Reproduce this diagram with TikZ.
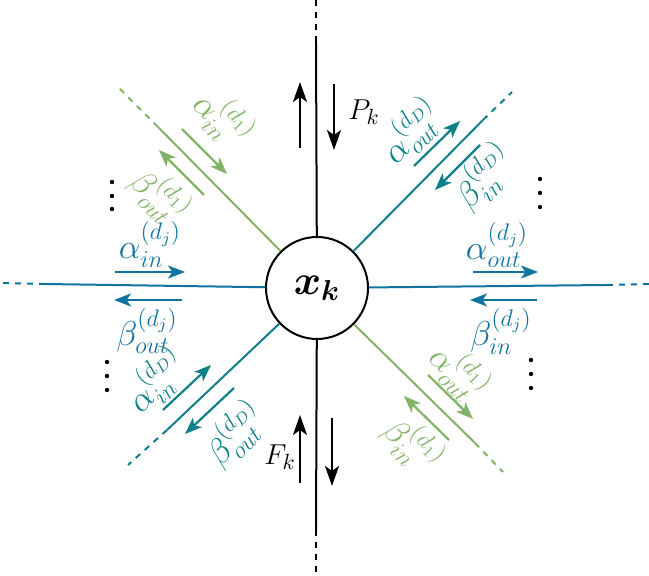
\documentclass[tikz,border=0pt]{standalone}
\usepackage{amsmath,amssymb}
\usetikzlibrary{arrows.meta}
\definecolor{cgreen}{HTML}{82B366}
\definecolor{cteal}{HTML}{0E8088}
\definecolor{cblue}{HTML}{10739E}
\tikzset{
  lab/.style={inner sep=0pt,font=\fontsize{16.5}{20}\selectfont},
  blab/.style={inner sep=0pt,font=\fontsize{15}{18}\selectfont},
  cline/.style={line width=1pt},
  dline/.style={line width=1pt,dash pattern=on 3pt off 3pt},
  carr/.style={line width=1.1pt,-{Stealth[length=8.5pt,width=6.5pt,inset=2.2pt]}},
  barr/.style={line width=1.1pt,-{Stealth[length=10pt,width=7pt,inset=2.5pt]}},
  dotc/.style={circle,fill=black,inner sep=0pt,minimum size=2.2pt}
}
\begin{document}
\begin{tikzpicture}[x=0.5pt,y=-0.5pt]
\useasboundingbox (0,0) rectangle (649,576);
\node[circle,draw,line width=1pt,minimum size=51pt,inner sep=0pt] (c) at (317,288)
  {\fontsize{20}{24}\selectfont$\boldsymbol{x}_{\boldsymbol{k}}$};

% vertical black
\coordinate (vt) at (316,42); \coordinate (vt0) at (316,0);
\coordinate (vb) at (316,530); \coordinate (vb0) at (316,576);
\draw[cline] (c) -- (vt); \draw[dline] (vt) -- (vt0);
\draw[cline] (c) -- (vb); \draw[dline] (vb) -- (vb0);
\coordinate (pu1) at (300,148); \coordinate (pu2) at (300,82);
\coordinate (pd1) at (334,84); \coordinate (pd2) at (334,150);
\draw[barr] (pu1) -- (pu2); \draw[barr] (pd1) -- (pd2);
\node[blab] (pk) at (364,112) {$P_k$};
\coordinate (fu1) at (300,483); \coordinate (fu2) at (300,415);
\coordinate (fd1) at (332,418); \coordinate (fd2) at (332,486);
\draw[barr] (fu1) -- (fu2); \draw[barr] (fd1) -- (fd2);
\node[blab] (fk) at (280,457) {$F_k$};

% horizontal blue
\begin{scope}[cblue]
\coordinate (hl) at (45,284); \coordinate (hl0) at (0,283);
\coordinate (hr) at (607,285); \coordinate (hr0) at (649,284);
\draw[cline] (c) -- (hl); \draw[dline] (hl) -- (hl0);
\draw[cline] (c) -- (hr); \draw[dline] (hr) -- (hr0);
\coordinate (la1) at (115,272); \coordinate (la2) at (185,272);
\coordinate (lb1) at (182,300); \coordinate (lb2) at (114,300);
\draw[carr] (la1) -- (la2); \draw[carr] (lb1) -- (lb2);
\node[lab,anchor=south] (lal) at (150,268) {$\alpha_{in}^{(d_j)}$};
\node[lab,anchor=north] (lbl) at (147,308) {$\beta_{out}^{(d_j)}$};
\coordinate (ra1) at (473,272); \coordinate (ra2) at (538,272);
\coordinate (rb1) at (537,300); \coordinate (rb2) at (470,300);
\draw[carr] (ra1) -- (ra2); \draw[carr] (rb1) -- (rb2);
\node[lab,anchor=south] (ral) at (497,268) {$\alpha_{out}^{(d_j)}$};
\node[lab,anchor=north] (rbl) at (501,308) {$\beta_{in}^{(d_j)}$};
\end{scope}

% upper-left green
\begin{scope}[cgreen]
\coordinate (ul) at (158,127); \coordinate (ul0) at (119,88);
\draw[cline] (c) -- (ul); \draw[dline] (ul) -- (ul0);
\coordinate (ula1) at (182,129); \coordinate (ula2) at (227,174);
\coordinate (ulb1) at (204,195); \coordinate (ulb2) at (159,150);
\draw[carr] (ula1) -- (ula2); \draw[carr] (ulb1) -- (ulb2);
\node[lab,rotate=-45] (ulal) at (223,119) {$\alpha_{in}^{(d_1)}$};
\node[lab,rotate=-45] (ulbl) at (160,196) {$\beta_{out}^{(d_1)}$};
\end{scope}

% lower-right green
\begin{scope}[cgreen]
\coordinate (lr) at (475,443); \coordinate (lr0) at (503,472);
\draw[cline] (c) -- (lr); \draw[dline] (lr) -- (lr0);
\coordinate (lra1) at (428,375); \coordinate (lra2) at (473,419);
\coordinate (lrb1) at (449,440); \coordinate (lrb2) at (404,396);
\draw[carr] (lra1) -- (lra2); \draw[carr] (lrb1) -- (lrb2);
\node[lab,rotate=-45] (lral) at (459,372) {$\alpha_{out}^{(d_1)}$};
\node[lab,rotate=-45] (lrbl) at (413,445) {$\beta_{in}^{(d_1)}$};
\end{scope}

% upper-right teal
\begin{scope}[cteal]
\coordinate (ur) at (483,120); \coordinate (ur0) at (512,92);
\draw[cline] (c) -- (ur); \draw[dline] (ur) -- (ur0);
\coordinate (ura1) at (414,166); \coordinate (ura2) at (460,121);
\coordinate (urb1) at (480,145); \coordinate (urb2) at (435,190);
\draw[carr] (ura1) -- (ura2); \draw[carr] (urb1) -- (urb2);
\node[lab,rotate=45] (ural) at (411,131) {$\alpha_{out}^{(d_D)}$};
\node[lab,rotate=45] (urbl) at (484,177) {$\beta_{in}^{(d_D)}$};
\end{scope}

% lower-left teal
\begin{scope}[cteal]
\coordinate (ll) at (167,430); \coordinate (ll0) at (128,465);
\draw[cline] (c) -- (ll); \draw[dline] (ll) -- (ll0);
\coordinate (lla1) at (163,410); \coordinate (lla2) at (211,365);
\coordinate (llb1) at (234,388); \coordinate (llb2) at (185,434);
\draw[carr] (lla1) -- (lla2); \draw[carr] (llb1) -- (llb2);
\node[lab,rotate=45] (llal) at (156,381) {$\alpha_{in}^{(d_D)}$};
\node[lab,rotate=45] (llbl) at (235,434) {$\beta_{out}^{(d_D)}$};
\end{scope}

% dots
\foreach \n/\x/\y in {a1/112/182,a2/112/196,a3/112/209,
  b1/540/179,b2/540/193,b3/540/207,
  c1/107/362,c2/107/376,c3/107/390,
  d1/531/360,d2/531/374,d3/531/388}
  \node[dotc] (dot\n) at (\x,\y) {};
\end{tikzpicture}
\end{document}
